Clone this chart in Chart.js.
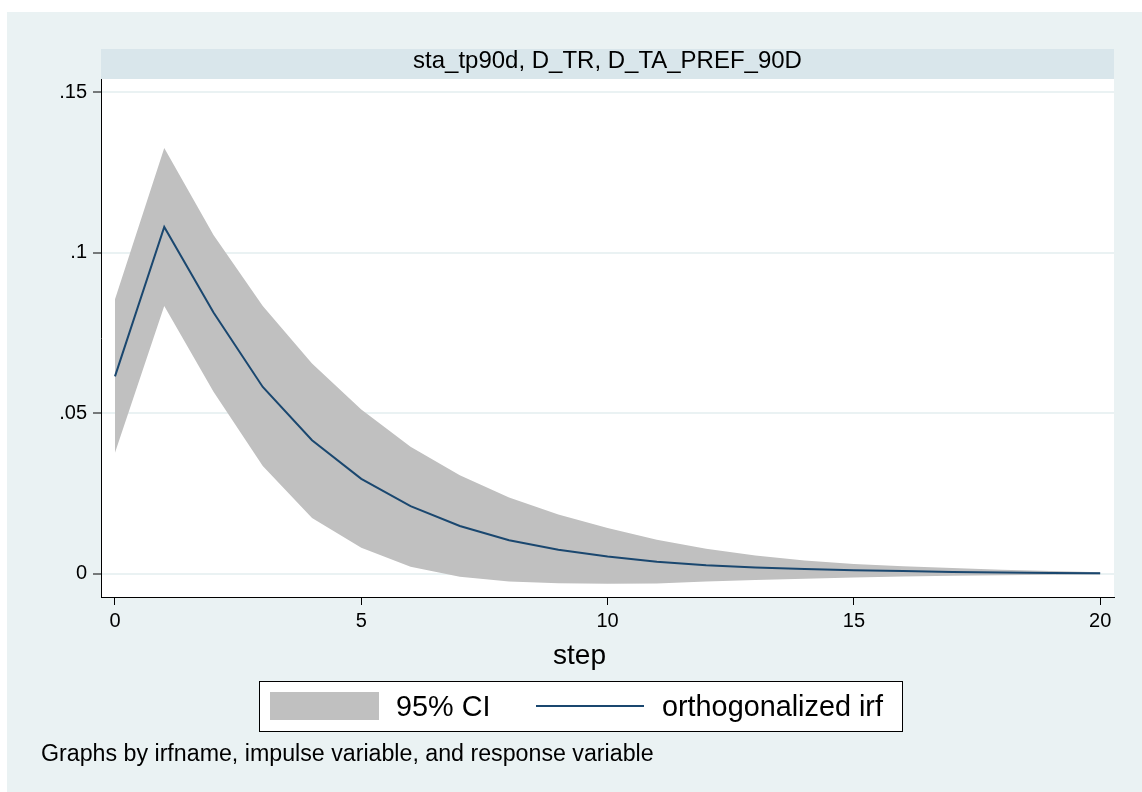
<!DOCTYPE html>
<html>
<head>
<meta charset="utf-8">
<script src="https://cdn.jsdelivr.net/npm/chart.js@4/dist/chart.umd.min.js"></script>
<style>
  html, body { margin: 0; padding: 0; background: #ffffff; }
  #wrap { width: 1142px; height: 792px; position: relative; }
</style>
</head>
<body>
<div id="wrap"><canvas id="c" width="1142" height="792"></canvas></div>
<script>
// ---- data ----
const steps = [0,1,2,3,4,5,6,7,8,9,10,11,12,13,14,15,16,17,18,19,20];
const irf   = [0.0615,0.1080,0.0814,0.0582,0.0416,0.0296,0.0211,0.0149,0.0105,0.0075,0.0054,0.0038,0.0027,0.0020,0.0015,0.0011,0.0009,0.0006,0.0004,0.0003,0.0002];
const ciUpper = [0.0855,0.1326,0.1055,0.0834,0.0655,0.0512,0.0396,0.0307,0.0238,0.0185,0.0143,0.0106,0.0078,0.0057,0.0042,0.0031,0.0024,0.0018,0.0013,0.0009,0.0005];
const ciLower = [0.0377,0.0834,0.0567,0.0336,0.0174,0.0081,0.0022,-0.0009,-0.0024,-0.0029,-0.0031,-0.0030,-0.0024,-0.0019,-0.0015,-0.0011,-0.0008,-0.0006,-0.0004,-0.0003,-0.0002];
const xTicks = [0,5,10,15,20];
const yTicks = [0,0.05,0.1,0.15];
const yTickLabels = ["0",".05",".1",".15"];
const panelTitle = "sta_tp90d, D_TR, D_TA_PREF_90D";
const xTitle = "step";
const ciLabel = "95% CI";
const irfLabel = "orthogonalized irf";
const noteText = "Graphs by irfname, impulse variable, and response variable";

// ---- styles ----
const FONT = "'Liberation Sans', Arial, Helvetica, sans-serif";
const BG = '#EAF2F3';
const STRIP = '#D9E6EB';
const CI_COLOR = '#C0C0C0';
const LINE_COLOR = '#1A476F';

const pts = arr => steps.map((s, i) => ({x: s, y: arr[i]}));

function fitFont(ctx, text, width) {
  ctx.font = '100px ' + FONT;
  return 100 * width / ctx.measureText(text).width;
}

const decor = {
  id: 'decor',
  beforeDraw(chart) {
    const ctx = chart.ctx;
    const a = chart.chartArea;
    ctx.save();
    ctx.fillStyle = '#ffffff';
    ctx.fillRect(0, 0, chart.width, chart.height);
    ctx.fillStyle = BG;
    ctx.fillRect(7, 12, chart.width - 7, chart.height - 12);
    ctx.fillStyle = '#ffffff';
    ctx.fillRect(a.left, a.top, a.right - a.left, a.bottom - a.top);
    ctx.fillStyle = STRIP;
    ctx.fillRect(a.left, 49, a.right - a.left, a.top - 49);
    ctx.fillStyle = '#000';
    ctx.textBaseline = 'alphabetic';
    ctx.textAlign = 'center';
    let fs = fitFont(ctx, panelTitle, 389);
    ctx.font = fs + 'px ' + FONT;
    ctx.fillText(panelTitle, 607.5, 68);
    ctx.restore();
  },
  afterDraw(chart) {
    const ctx = chart.ctx;
    ctx.save();
    ctx.fillStyle = '#000';
    ctx.textBaseline = 'alphabetic';
    ctx.textAlign = 'center';
    let fs = fitFont(ctx, xTitle, 53);
    ctx.font = fs + 'px ' + FONT;
    ctx.fillText(xTitle, 579.5, 664);
    // legend box
    ctx.fillStyle = '#ffffff';
    ctx.fillRect(259, 681, 643, 50);
    ctx.strokeStyle = '#000';
    ctx.lineWidth = 1;
    ctx.strokeRect(259.5, 681.5, 643, 50);
    ctx.fillStyle = CI_COLOR;
    ctx.fillRect(270, 692, 109, 28);
    ctx.strokeStyle = LINE_COLOR;
    ctx.lineWidth = 2;
    ctx.beginPath();
    ctx.moveTo(536, 706);
    ctx.lineTo(644, 706);
    ctx.stroke();
    ctx.fillStyle = '#000';
    ctx.textAlign = 'left';
    fs = fitFont(ctx, irfLabel, 221);
    ctx.font = fs + 'px ' + FONT;
    ctx.fillText(ciLabel, 396, 706 + 0.358 * fs);
    ctx.fillText(irfLabel, 662, 706 + 0.358 * fs);
    fs = fitFont(ctx, noteText, 613);
    ctx.font = fs + 'px ' + FONT;
    ctx.fillText(noteText, 41, 761);
    ctx.restore();
  }
};

new Chart(document.getElementById('c'), {
  type: 'line',
  data: {
    datasets: [
      { label: ciLabel, data: pts(ciUpper), borderWidth: 0, borderColor: 'rgba(0,0,0,0)', backgroundColor: CI_COLOR, fill: '+1', pointRadius: 0, tension: 0 },
      { label: ciLabel + ' lower', data: pts(ciLower), borderWidth: 0, borderColor: 'rgba(0,0,0,0)', backgroundColor: CI_COLOR, fill: false, pointRadius: 0, tension: 0 },
      { label: irfLabel, data: pts(irf), borderWidth: 2, borderColor: LINE_COLOR, backgroundColor: LINE_COLOR, fill: false, pointRadius: 0, tension: 0 }
    ]
  },
  options: {
    responsive: false,
    animation: false,
    devicePixelRatio: 1,
    layout: { padding: { top: 79, right: 28, left: 0, bottom: 0 } },
    plugins: {
      legend: { display: false },
      tooltip: { enabled: false },
      filler: { drawTime: 'beforeDatasetsDraw' }
    },
    scales: {
      x: {
        type: 'linear',
        min: -0.284,
        max: 20.28,
        afterFit(s) { s.height = 195; },
        afterBuildTicks(s) { s.ticks = xTicks.map(v => ({value: v})); },
        grid: { drawOnChartArea: false, drawTicks: true, tickLength: 8, tickColor: '#000', tickWidth: 1 },
        border: { display: true, color: '#000', width: 1 },
        ticks: { color: '#000', padding: 4, font: { family: FONT, size: 20 }, maxRotation: 0, autoSkip: false,
                 callback: v => String(v) }
      },
      y: {
        type: 'linear',
        min: -0.0072,
        max: 0.1541,
        afterFit(s) { s.width = 101; },
        afterBuildTicks(s) { s.ticks = yTicks.map(v => ({value: v})); },
        grid: { drawOnChartArea: true, color: BG, lineWidth: 2, drawTicks: true, tickLength: 8, tickColor: '#000', tickWidth: 1 },
        border: { display: true, color: '#000', width: 1 },
        ticks: { color: '#000', padding: 6, font: { family: FONT, size: 20 }, autoSkip: false,
                 callback: (v) => { const i = yTicks.indexOf(v); return i >= 0 ? yTickLabels[i] : ''; } }
      }
    }
  },
  plugins: [decor]
});
</script>
</body>
</html>
